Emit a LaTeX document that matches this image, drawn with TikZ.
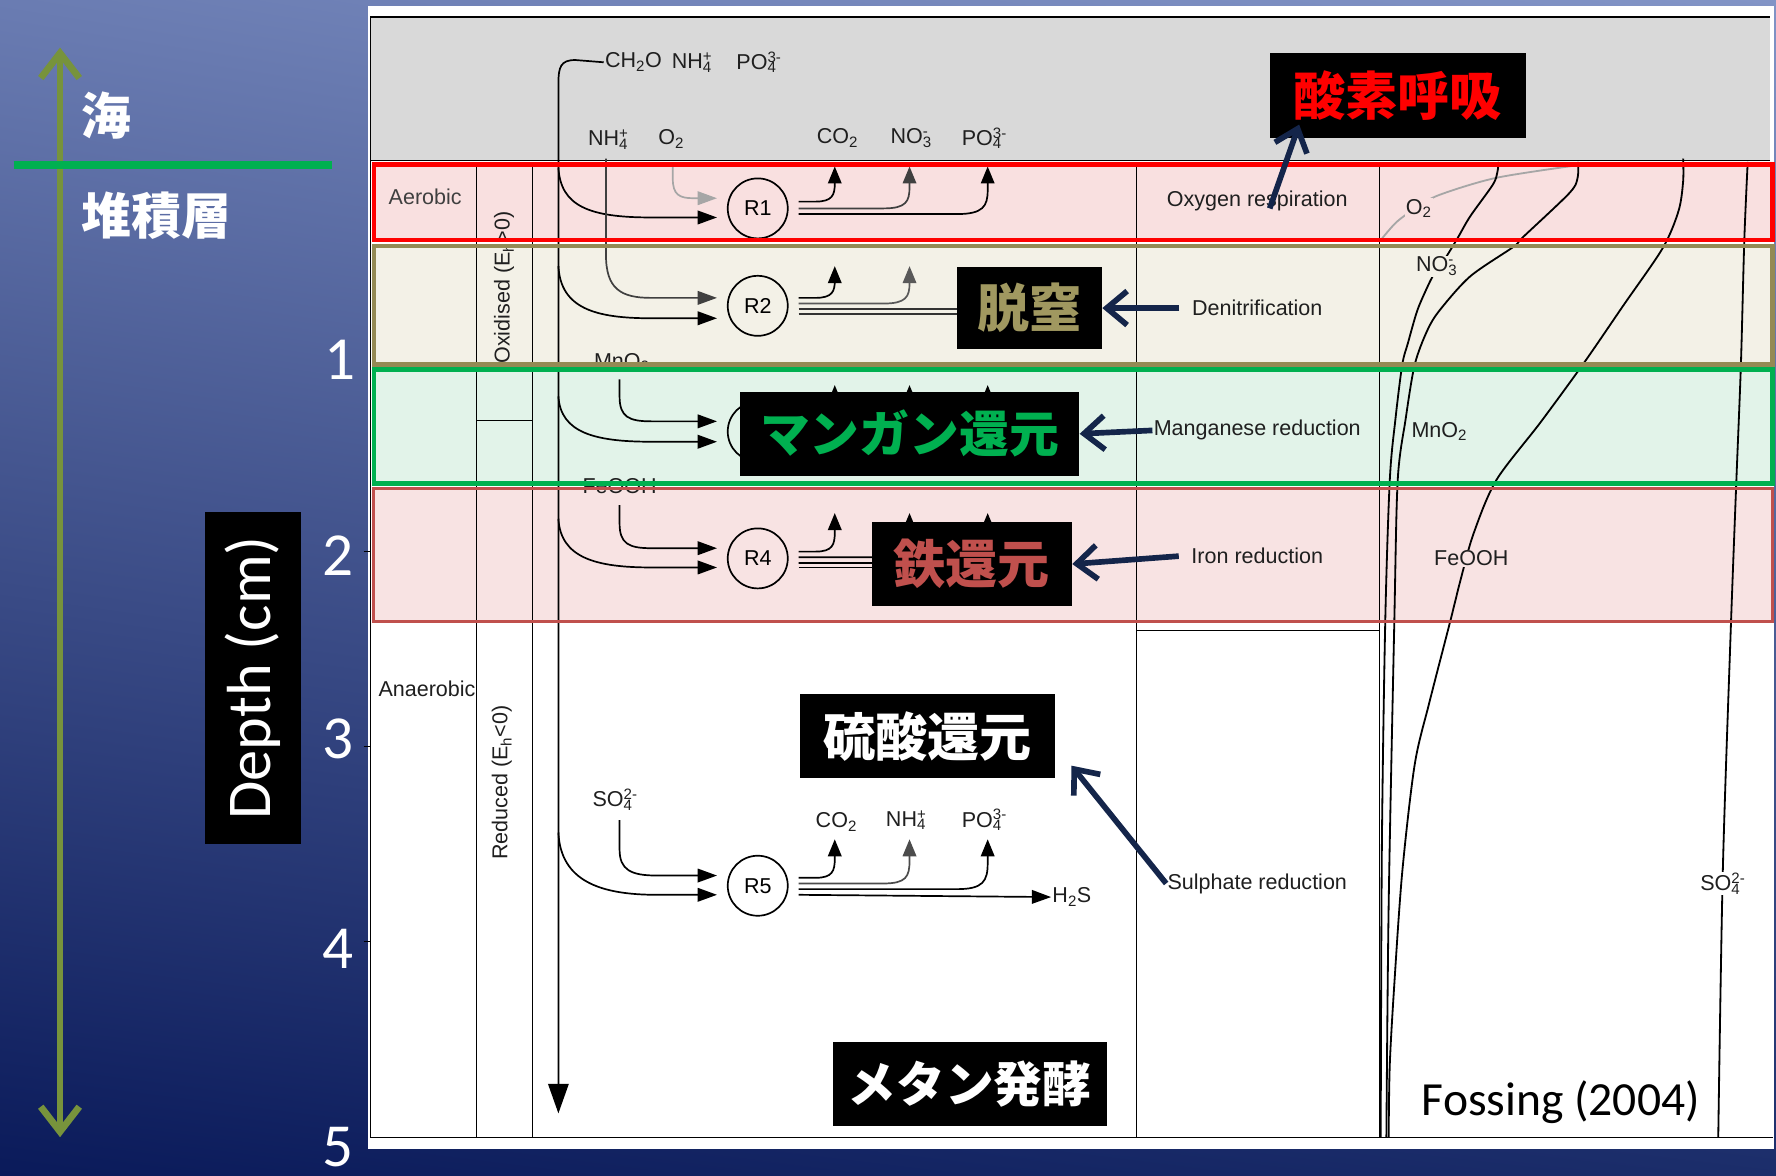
\documentclass[tikz,border=0pt]{standalone}
\usepackage{fontspec}
\setmainfont{Liberation Sans}
\newfontfamily\calfont{Carlito}
\newfontfamily\cjkfont{Noto Sans CJK JP}
\usetikzlibrary{arrows.meta,calc,shadings}
\definecolor{bgTL}{HTML}{6A7CB2}
\definecolor{bgTR}{HTML}{8294C6}
\definecolor{bgBL}{HTML}{0A1A5A}
\definecolor{bgBR}{HTML}{1B2D6A}
\definecolor{hdrgray}{HTML}{D9D9D9}
\definecolor{redfill}{HTML}{F9E0E0}
\definecolor{olivefill}{HTML}{F3F1E7}
\definecolor{greenfill}{HTML}{E2F3E9}
\definecolor{ironfill}{HTML}{F8E3E3}
\definecolor{redb}{HTML}{FF0000}
\definecolor{oliveb}{HTML}{948A54}
\definecolor{greenb}{HTML}{00B050}
\definecolor{ironb}{HTML}{C0504D}
\definecolor{navyc}{HTML}{14254A}
\definecolor{axisgreen}{HTML}{77933C}
\definecolor{oliveText}{HTML}{A09860}
\newcommand\sbsp[2]{\rlap{\textsubscript{#1}}\textsuperscript{#2}}
\begin{document}
\begin{tikzpicture}[x=1pt,y=-1pt,
  txt/.style={font=\fontsize{19}{21}\selectfont, text=black!88, inner sep=1pt},
  flow/.style={line width=1.5pt},
  tipin/.style={-{Triangle[length=17pt,width=12pt]}},
  tipup/.style={-{Triangle[length=15pt,width=12pt]}},
  rc/.style={circle, draw, line width=1.5pt, minimum size=53pt, inner sep=0pt, font=\fontsize{19}{21}\selectfont},
  jbox/.style={fill=black, inner sep=0pt, font=\cjkfont\bfseries\fontsize{46}{50}\selectfont},
  navyarr/.style={draw=navyc, line width=5pt, -{Straight Barb[length=18pt,width=30pt]}},
  prof/.style={line width=1.6pt},
  num/.style={text=white, font=\calfont\fontsize{54}{56}\selectfont, inner sep=0pt, anchor=base}]
\useasboundingbox (0,0) rectangle (1568,1038);
% background
\shade[upper left=bgTL, upper right=bgTR, lower left=bgBL, lower right=bgBR] (0,0) rectangle (1568,1038);
\fill[white] (325,5) rectangle (1566,1014);
\fill[hdrgray] (327,15) rectangle (1563,142);
% band fills
\fill[redfill] (330,145) rectangle (1565,212);
\fill[olivefill] (330,217) rectangle (1565,322);
\fill[greenfill] (330,326) rectangle (1565,427);
\fill[ironfill] (330,431) rectangle (1565,549);
% table lines
\draw[line width=1pt] (327,15) -- (1563,15);
\draw[line width=1pt] (327,15) -- (327,1004) -- (1565,1004);
\draw[line width=1pt] (327,142) -- (1563,142);
\draw[line width=1pt] (421,145) -- (421,1004);
\draw[line width=1pt] (470,145) -- (470,1004);
\draw[line width=1pt] (1003,145) -- (1003,1004);
\draw[line width=1pt] (1218,145) -- (1218,1004);
\draw[line width=1pt] (421,371) -- (470,371);
\draw[line width=1pt] (1003,557) -- (1218,557);
% header labels
\node[txt, anchor=west] (hCH) at (533,55) {CH\textsubscript{2}O};
\node[txt, anchor=west] (hNH) at (592,55) {NH\sbsp{4}{+}};
\node[txt, anchor=west] (hPO) at (649,55) {PO\sbsp{4}{3-}};
\node[txt, anchor=west] (iNH) at (518,123) {NH\sbsp{4}{+}};
\node[txt, anchor=west] (iO) at (580,123) {O\textsubscript{2}};
\node[txt, anchor=west] (oCO) at (720,122) {CO\textsubscript{2}};
\node[txt, anchor=west] (oNO) at (785,122) {NO\sbsp{3}{-}};
\node[txt, anchor=west] (oPO) at (848,122) {PO\sbsp{4}{3-}};
% side labels
\node[txt, anchor=west, text=black!75] (aer) at (342,174) {Aerobic};
\node[txt, anchor=west] (anaer) at (333,608) {Anaerobic};
\node[txt, rotate=90] (oxid) at (445,254) {Oxidised (E\textsubscript{h}>0)};
\node[txt, rotate=90] (redu) at (443,691) {Reduced (E\textsubscript{h}<0)};
\node[txt] (lMn) at (549,320) {MnO\textsubscript{2}};
\node[txt] (lFe) at (547,429) {FeOOH};
\node[txt, anchor=west] (lSO) at (522,706) {SO\sbsp{4}{2-}};
\node[txt, anchor=west] (pCO) at (719,726) {CO\textsubscript{2}};
\node[txt, anchor=west] (pNH) at (781,724) {NH\sbsp{4}{+}};
\node[txt, anchor=west] (pPO) at (848,724) {PO\sbsp{4}{3-}};
\node[txt, anchor=west] (pHS) at (928,792) {H\textsubscript{2}S};
% process names
\node[txt] (nOx) at (1110,177) {Oxygen respiration};
\node[txt] (nDe) at (1110,272) {Denitrification};
\node[txt] (nMn) at (1110,380) {Manganese reduction};
\node[txt] (nFe) at (1110,491) {Iron reduction};
\node[txt] (nSu) at (1110,780) {Sulphate reduction};
% reaction circles
\node[rc] (R1) at (669,184) {R1};
\node[rc] (R2) at (669,270) {R2};
\node[rc] (R3) at (669,381) {};
\node[rc] (R4) at (669,493) {R4};
\node[rc] (R5) at (669,782) {R5};
% main organic matter flux
\draw[flow, -{Triangle[length=26pt,width=18pt]}] (hCH.west) -- (508,53) .. controls (495,53) and (493,59) .. (493,74) -- (493,983);
% lower inputs
\draw[flow, tipin] (493,148) .. controls (495,182) and (520,192) .. (575,192) -- (633,192);
\draw[flow, tipin] (493,235) .. controls (495,272) and (525,281) .. (575,281) -- (633,281);
\draw[flow, tipin] (493,350) .. controls (495,382) and (525,390) .. (575,390) -- (633,390);
\draw[flow, tipin] (493,458) .. controls (495,492) and (525,501) .. (575,501) -- (633,501);
\draw[flow, tipin] (493,735) .. controls (495,778) and (530,790) .. (580,790) -- (633,790);
% upper inputs
\draw[flow, tipin, black!35] (594,147) -- (594,158) .. controls (594,172) and (600,175) .. (612,175) -- (633,175);
\draw[flow, tipin, black!75] (535,140) -- (535,225) .. controls (535,255) and (548,263) .. (575,263) -- (633,263);
\draw[flow, tipin] (547,335) -- (547,350) .. controls (547,368) and (555,372) .. (575,372) -- (633,372);
\draw[flow, tipin] (547,446) -- (547,462) .. controls (547,480) and (555,484) .. (575,484) -- (633,484);
\draw[flow, tipin] (547,724) -- (547,750) .. controls (547,768) and (557,773) .. (580,773) -- (633,773);
% outputs R1
\draw[flow, tipup] (705,178) -- (720,178) .. controls (735,178) and (737,172) .. (737,162) -- (737,147);
\draw[flow, tipup, black!75] (705,184) -- (780,184) .. controls (800,184) and (803,178) .. (803,165) -- (803,147);
\draw[flow, tipup] (705,189) -- (845,189) .. controls (868,189) and (872,182) .. (872,168) -- (872,147);
% outputs R2
\draw[flow, tipup] (705,263) -- (720,263) .. controls (735,263) and (737,257) .. (737,248) -- (737,235);
\draw[flow, tipup, black!65] (705,268) -- (780,268) .. controls (800,268) and (803,262) .. (803,250) -- (803,235);
\draw[flow, black!80] (705,273) -- (850,273);
\draw[flow, black!80] (705,277) -- (850,277);
% outputs R3
\draw[flow, tipup] (705,375) -- (720,375) .. controls (735,375) and (737,369) .. (737,358) -- (737,340);
\draw[flow, tipup] (705,380) -- (780,380) .. controls (800,380) and (803,374) .. (803,360) -- (803,340);
\draw[flow, tipup] (705,385) -- (845,385) .. controls (868,385) and (872,378) .. (872,362) -- (872,340);
\draw[flow] (705,389) -- (870,389);
% outputs R4
\draw[flow, tipup] (705,487) -- (720,487) .. controls (735,487) and (737,481) .. (737,470) -- (737,453);
\draw[flow, tipup] (705,492) -- (780,492) .. controls (800,492) and (803,486) .. (803,472) -- (803,453);
\draw[flow, tipup] (705,497) -- (845,497) .. controls (868,497) and (872,490) .. (872,474) -- (872,453);
\draw[flow] (705,501) -- (790,501);
% outputs R5
\draw[flow, tipup] (705,775) -- (720,775) .. controls (735,775) and (737,769) .. (737,758) -- (737,741);
\draw[flow, tipup, black!70] (705,780) -- (780,780) .. controls (800,780) and (803,774) .. (803,760) -- (803,741);
\draw[flow, tipup] (705,785) -- (845,785) .. controls (868,785) and (872,778) .. (872,762) -- (872,741);
\draw[flow, -{Triangle[length=17pt,width=12pt]}] (705,790) -- (pHS.west);
% concentration profiles
\draw[prof, black!35] plot[smooth] coordinates {(1392,146) (1321,157) (1271,172) (1251,183) (1233,196) (1219,212)};
\draw[prof] plot[smooth] coordinates {(1323,143) (1322,152) (1318,163) (1298,191) (1287,210) (1276,228) (1266,242) (1259,256) (1251,275) (1243,303) (1238,322) (1232,370) (1227,424) (1223,549) (1220,750) (1219,1004)};
\draw[prof] plot[smooth] coordinates {(1393,143) (1393,156) (1386,170) (1345,209) (1336,218) (1298,244) (1271,274) (1260,292) (1249,322) (1241,370) (1234,424) (1231,549) (1226,800) (1224,1004)};
\draw[prof] plot[smooth] coordinates {(1486,140) (1486,160) (1482,186) (1468,219) (1433,270) (1398,321) (1360,373) (1321,424) (1301,471) (1290,510) (1280,550) (1262,620) (1249,675) (1238,770) (1231,869) (1227,940) (1226,1004)};
\draw[prof] plot[smooth] coordinates {(1543,143) (1540,212) (1537,322) (1533,424) (1528,557) (1521,770) (1517,1004)};
\node[txt, anchor=west, fill=redfill] (pO2) at (1240,184) {O\textsubscript{2}};
\node[txt, anchor=west, fill=olivefill] (pNO) at (1249,235) {NO\sbsp{3}{-}};
\node[txt, anchor=west, fill=greenfill] (pMn) at (1245,381) {MnO\textsubscript{2}};
\node[txt, anchor=west, fill=ironfill] (pFe) at (1265,493) {FeOOH};
\node[txt, anchor=west, fill=white] (pSO) at (1500,780) {SO\sbsp{4}{2-}};
% band borders
\draw[redb, line width=4pt] (330,145) rectangle (1565,212);
\draw[oliveb, line width=4pt] (330,217) rectangle (1565,322);
\draw[greenb, line width=4pt] (330,326) rectangle (1565,427);
\draw[ironb, line width=2.5pt] (330,431) rectangle (1565,549);
% Japanese labels
\node[jbox, text=redb, minimum width=226pt, minimum height=75pt] (jOx) at (1234,84) {酸素呼吸};
\node[jbox, text=oliveText, minimum width=128pt, minimum height=73pt] (jDe) at (909,272) {脱窒};
\node[jbox, text=greenb, minimum width=300pt, minimum height=74pt, font=\cjkfont\bfseries\fontsize{44}{48}\selectfont] (jMn) at (803,383) {マンガン還元};
\node[jbox, text=ironb, minimum width=177pt, minimum height=74pt] (jFe) at (858,498) {鉄還元};
\node[jbox, text=white, minimum width=225pt, minimum height=74pt] (jSu) at (819,650) {硫酸還元};
\node[jbox, text=white, minimum width=242pt, minimum height=74pt, font=\cjkfont\bfseries\fontsize{43}{47}\selectfont] (jMe) at (856,957) {メタン発酵};
% annotation arrows
\draw[navyarr] (1121,184) -- (1147,110);
\draw[navyarr] (nDe.west) ++(-10,0) -- (jDe.east);
\draw[navyarr] (nMn.west) -- (jMn.east);
\draw[navyarr] (nFe.west) ++(-10,0) -- (jFe.east);
\draw[navyarr] (nSu.west) -- (946,676);
% citation
\node[font=\calfont\fontsize{42}{46}\selectfont, inner sep=0pt] (cite) at (1378,973) {Fossing (2004)};
% depth axis
\draw[axisgreen, line width=6pt, {Straight Barb[length=22pt,width=34pt]}-{Straight Barb[length=22pt,width=34pt]}] (53,42) -- (53,1004);
\draw[greenb, line width=7pt] (12,146) -- (293,146);
\node[text=white, anchor=west, inner sep=0pt, font=\cjkfont\bfseries\fontsize{44}{48}\selectfont] (sea) at (72,102) {海};
\node[text=white, anchor=west, inner sep=0pt, font=\cjkfont\bfseries\fontsize{44}{48}\selectfont] (sed) at (72,190) {堆積層};
\node[rotate=90, fill=black, text=white, minimum width=293pt, minimum height=85pt, inner sep=0pt, font=\calfont\fontsize{55}{58}\selectfont] (depth) at (223.5,598.5) {Depth (cm)};
\node[num] (n1) at (300,335) {1};
\node[num] (n2) at (298,508) {2};
\node[num] (n3) at (298,670) {3};
\node[num] (n4) at (298,855) {4};
\node[num] (n5) at (298,1030) {5};
\foreach \yy in {487,659,831} \draw[line width=1pt] (321,\yy) -- (327,\yy);
\end{tikzpicture}
\end{document}
